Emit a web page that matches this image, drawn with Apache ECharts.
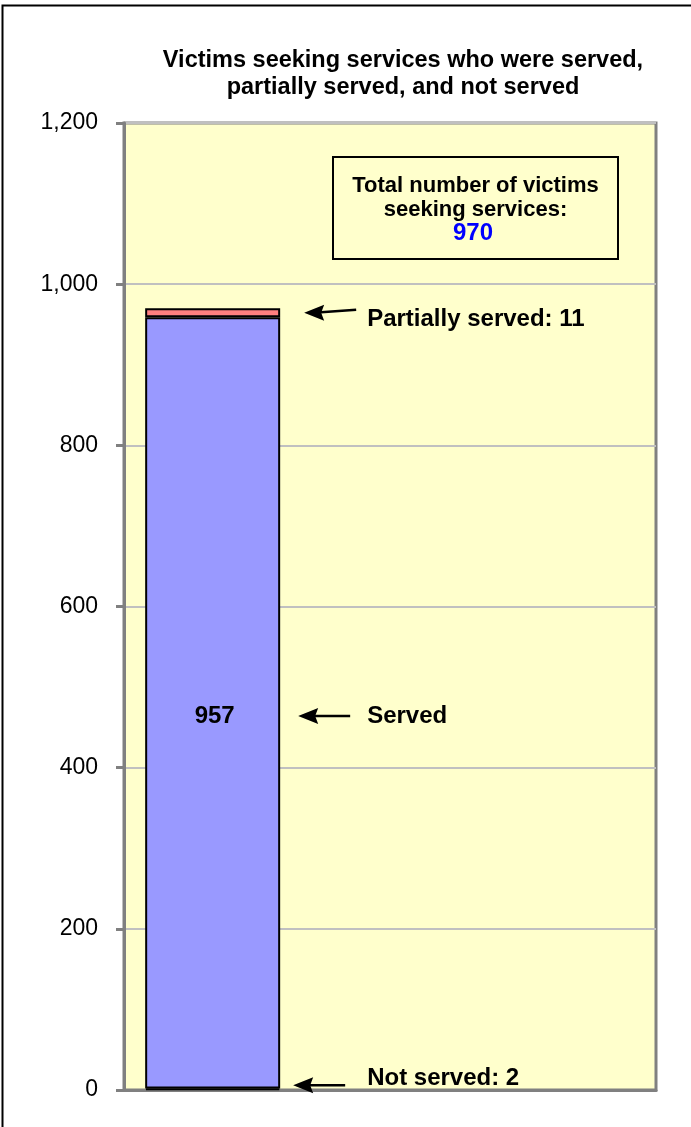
<!DOCTYPE html>
<html><head><meta charset="utf-8">
<script src="https://cdn.jsdelivr.net/npm/echarts@6/dist/echarts.min.js"></script>
<style>html,body{margin:0;padding:0;background:#fff}#c{width:691px;height:1127px}</style>
</head><body><div id="c"></div>
<script>
var categories = ['Victims', '', ''];
var notServed = [2, null, null];
var served = [957, null, null];
var partiallyServed = [11, null, null];
var total = 970;
var titleLines = ['Victims seeking services who were served,', 'partially served, and not served'];
var boxLines = ['Total number of victims', 'seeking services:'];
var notes = [
  {text: 'Partially served: ' + partiallyServed[0], value: notServed[0] + served[0] + partiallyServed[0] / 2},
  {text: 'Served', value: 464},
  {text: 'Not served: ' + notServed[0], value: 6}
];

var FONT = 'Liberation Sans, Arial, sans-serif';
var chart = echarts.init(document.getElementById('c'));
function seg(name, data, color, label) {
  return {
    name: name, type: 'bar', stack: 'all', data: data, barWidth: 135,
    itemStyle: {color: color, borderColor: '#000', borderWidth: 2},
    label: label || {show: false}, silent: true, animation: false
  };
}
chart.setOption({
  animation: false,
  title: {
    text: titleLines.join('\n'), left: 398, top: 42, textAlign: 'center',
    textStyle: {fontFamily: FONT, fontWeight: 'bold', fontSize: 23.5, lineHeight: 27, color: '#000'}
  },
  grid: {left: 124, top: 123, right: 35, bottom: 37, show: true, backgroundColor: '#FFFFCC', borderColor: '#808080', borderWidth: 3},
  xAxis: {
    type: 'category', data: categories,
    axisLine: {lineStyle: {color: '#808080', width: 3}},
    axisTick: {show: false}, axisLabel: {show: false}
  },
  yAxis: {
    type: 'value', min: 0, max: 1200, interval: 200,
    axisLine: {show: true, lineStyle: {color: '#808080', width: 3}},
    axisTick: {show: true, length: 8, lineStyle: {color: '#808080', width: 3}},
    splitLine: {lineStyle: {color: '#C0C0C0', width: 2}},
    axisLabel: {
      margin: 26, fontFamily: FONT, fontSize: 23, color: '#000', padding: [4, 0, 0, 0],
      formatter: function (v) { return v.toLocaleString('en-US'); }
    }
  },
  series: [
    seg('Not served', notServed, '#006666'),
    seg('Served', served, '#9999FF', {
      show: true, position: 'inside', offset: [2, 14],
      fontFamily: FONT, fontWeight: 'bold', fontSize: 24, color: '#000'
    }),
    seg('Partially served', partiallyServed, '#FF8080')
  ]
});

var g = [];
g.push({type: 'polyline', shape: {points: [[2.5, 1127], [2.5, 5.5], [691, 5.5]]}, style: {stroke: '#000', lineWidth: 2, fill: null}, z: 100});
g.push({type: 'rect', shape: {x: 333, y: 157, width: 285, height: 102}, style: {fill: '#FFFFCC', stroke: '#000', lineWidth: 2}, z: 100});
g.push({type: 'text', x: 475.5, y: 174, style: {text: boxLines.join('\n'), fill: '#000', font: 'bold 22px ' + FONT, textAlign: 'center', lineHeight: 24}, z: 101});
g.push({type: 'text', x: 473, y: 221, style: {text: String(total), fill: '#0000FF', font: 'bold 24px ' + FONT, textAlign: 'center'}, z: 101});
var arrowDx = [24, 18, 13];
var textDy = [7, 0, -7];
var tilt = [3, 0, 0];
notes.forEach(function (n, i) {
  var y = chart.convertToPixel({yAxisIndex: 0}, n.value);
  var barRight = chart.convertToPixel({xAxisIndex: 0}, categories[0]) + 67.5;
  var x0 = barRight + arrowDx[i];
  g.push({type: 'line', shape: {x1: x0 + 10, y1: y, x2: x0 + 52, y2: y - tilt[i]}, style: {stroke: '#000', lineWidth: 2.5}, z: 100});
  g.push({type: 'polygon', shape: {points: [[x0, y], [x0 + 20, y - 8], [x0 + 17, y], [x0 + 20, y + 8]]}, style: {fill: '#000'}, z: 100});
  g.push({type: 'text', x: barRight + 87, y: y + textDy[i], style: {text: n.text, fill: '#000', font: 'bold 24px ' + FONT, textVerticalAlign: 'middle'}, z: 100});
});
chart.setOption({graphic: g});
</script></body></html>
